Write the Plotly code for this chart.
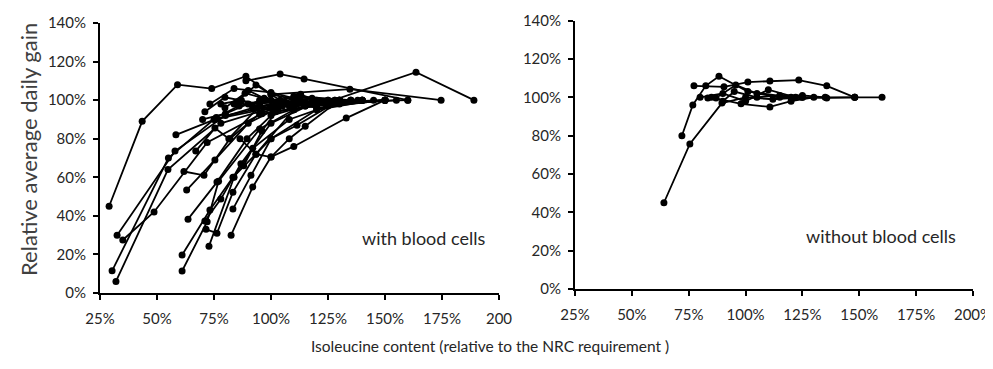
import plotly.graph_objects as go
from plotly.subplots import make_subplots

# Left panel: diets with blood cells (isoleucine % of NRC, relative ADG %)
with_x = [
    [29, 43.5, 59, 74, 89, 100, 120, 150],
    [30.3, 55, 75, 100, 125, 150],
    [32, 54.8, 78, 103, 130, 155],
    [32.5, 57.9, 80, 105, 130, 160],
    [35, 48.7, 72, 96, 120, 150],
    [58.3, 75.4, 92, 110, 130],
    [61, 72, 77, 95, 110, 130],
    [61, 73.2, 83.3, 100, 120, 145],
    [63.6, 76.3, 89.5, 100, 115, 140],
    [63, 75.4, 90, 105, 125],
    [61.8, 70.6, 82, 95, 110, 135],
    [71, 78, 86.8, 100, 118, 140],
    [71.5, 76.3, 83.3, 93.4, 110, 130],
    [72.8, 83.8, 92, 108, 125, 150],
    [82.5, 92, 100, 110, 133, 150],
    [83.3, 91.2, 100, 111.4, 130],
    [67, 75.4, 81.5, 95, 115, 140],
    [71, 79.8, 95, 112, 135],
    [73.2, 83.8, 100, 120, 140],
    [79.8, 88.6, 100, 115, 135],
    [83.8, 93.4, 104, 120, 150],
    [89, 104, 114.5, 160],
    [95, 120, 163.6, 189],
    [100, 134.6, 174.6],
    [86.4, 93.4, 100, 108, 115, 130],
    [76, 86, 97, 105, 118, 128],
    [88, 96, 103, 112, 122, 140],
    [85, 92, 102, 110, 120],
    [70, 80, 90, 98, 108, 118, 128],
    [78, 87, 94, 102, 110, 125],
    [90, 97, 106, 113, 124, 138],
]
with_y = [
    [45, 89, 108, 106, 112.4, 103, 98, 100],
    [11.5, 70, 90, 96, 99, 100],
    [6, 64, 88, 97, 98, 100],
    [30, 73.6, 92, 98, 99, 100],
    [27.5, 42, 78, 93, 97, 100],
    [82, 90, 96, 99, 100],
    [11.4, 37, 58, 85, 95, 100],
    [19.7, 43, 60, 80, 95, 100],
    [38.3, 57.5, 80, 92, 97, 100],
    [53.4, 69, 88, 97, 100],
    [63, 61, 80, 93, 99, 100],
    [37.3, 48.7, 67, 88, 98, 100],
    [33, 31, 52.3, 72, 95, 100],
    [24.3, 60, 75, 90, 97, 100],
    [30, 55, 70.5, 76, 90.7, 100],
    [43.5, 61, 80, 87, 100],
    [73.6, 85.5, 80, 97, 99, 100],
    [94, 101.5, 98, 102, 100],
    [98, 106, 104, 98, 100],
    [96, 103.6, 100, 97, 100],
    [98, 107.8, 100, 96, 100],
    [110, 113.5, 111, 100],
    [100, 97, 114.5, 100],
    [103, 105.7, 100],
    [80, 72, 70.5, 80, 86.5, 100],
    [91, 97, 100, 99, 101, 100],
    [66, 84, 95, 101, 99, 100],
    [99, 97, 94, 96, 100],
    [90, 93, 98, 100, 97, 99, 100],
    [98, 100, 96, 99, 102, 100],
    [105, 101, 99, 103, 98, 100],
]

# Right panel: diets without blood cells
without_x = [
    [64.1, 75.5, 89.6, 100, 112, 125, 148, 160],
    [72, 76.8, 82.5, 88.3, 101, 120, 135.7, 148],
    [77.3, 90.5, 101, 110.7, 123.4, 135.7, 148],
    [83.4, 87, 95.7, 105, 115, 125],
    [85, 98, 110.7, 120, 130],
    [80, 90, 100, 110, 122],
    [90, 95, 105, 115, 125, 135],
]
without_y = [
    [45, 75.7, 97, 100, 99, 100, 100, 100],
    [80, 96, 106, 111, 103, 100, 99.7, 100],
    [106, 105.5, 108, 108.6, 109, 106, 100],
    [99.7, 99.7, 106.5, 102, 100, 100],
    [100, 96.6, 95, 98, 100],
    [100, 102, 98, 104, 100],
    [98, 103, 100, 101, 101, 100],
]

x_ticks = [25, 50, 75, 100, 125, 150, 175, 200]
x_labels_left = ["25%", "50%", "75%", "100%", "125%", "150%", "175%", "200"]
x_labels_right = ["25%", "50%", "75%", "100%", "125%", "150%", "175%", "200%"]
y_ticks = [0, 20, 40, 60, 80, 100, 120, 140]
y_labels = ["0%", "20%", "40%", "60%", "80%", "100%", "120%", "140%"]

FONT = "Lato"
TXT = "#262626"

fig = make_subplots(rows=1, cols=2)

for xs, ys in zip(with_x, with_y):
    fig.add_trace(go.Scatter(
        x=xs, y=ys, mode="lines+markers",
        line=dict(color="black", width=1.8),
        marker=dict(color="black", size=7),
        showlegend=False, hoverinfo="skip"
    ), row=1, col=1)

for xs, ys in zip(without_x, without_y):
    fig.add_trace(go.Scatter(
        x=xs, y=ys, mode="lines+markers",
        line=dict(color="black", width=1.8),
        marker=dict(color="black", size=7),
        showlegend=False, hoverinfo="skip"
    ), row=1, col=2)

axis_common = dict(
    showgrid=False, zeroline=False, showline=True, linecolor="black", linewidth=2,
    ticks="outside", ticklen=5, tickwidth=2, tickcolor="black", automargin=False,
    tickfont=dict(family=FONT, size=15, color=TXT),
)

fig.update_xaxes(range=[25, 200], tickvals=x_ticks, ticktext=x_labels_left,
                 domain=[92 / 993, 491 / 993], ticklabelstandoff=6,
                 **axis_common, row=1, col=1)
fig.update_xaxes(range=[25, 200], tickvals=x_ticks, ticktext=x_labels_right,
                 domain=[567 / 993, 965 / 993], ticklabelstandoff=6,
                 **axis_common, row=1, col=2)
fig.update_yaxes(range=[0, 140], tickvals=y_ticks, ticktext=y_labels,
                 domain=[1 - 285 / 369, 1 - 15 / 369], ticklabelstandoff=4,
                 **axis_common, row=1, col=1)
fig.update_yaxes(range=[0, 140], tickvals=y_ticks, ticktext=y_labels,
                 domain=[1 - 281 / 369, 1 - 12.7 / 369], ticklabelstandoff=4,
                 **axis_common, row=1, col=2)

fig.add_annotation(x=166.7, y=28.5, xref="x", yref="y", text="with blood cells",
                   showarrow=False, font=dict(family=FONT, size=18, color=TXT))
fig.add_annotation(x=159.4, y=27.8, xref="x2", yref="y2", text="without blood cells",
                   showarrow=False, font=dict(family=FONT, size=18, color=TXT))

fig.add_annotation(x=20 / 993, y=1 - 142 / 369, xref="paper", yref="paper",
                   xanchor="center", yanchor="middle",
                   text="Relative average daily gain", textangle=-90, showarrow=False,
                   font=dict(family=FONT, size=22, color="#404040"))
fig.add_annotation(x=482 / 993, y=1 - 338 / 369, xref="paper", yref="paper",
                   xanchor="center", yanchor="middle",
                   text="Isoleucine content (relative to the NRC requirement )",
                   showarrow=False, font=dict(family=FONT, size=15.5, color=TXT))

fig.update_layout(
    width=993, height=369,
    margin=dict(l=0, r=0, t=0, b=0),
    plot_bgcolor="white", paper_bgcolor="white",
)

fig.write_html("out.html")
